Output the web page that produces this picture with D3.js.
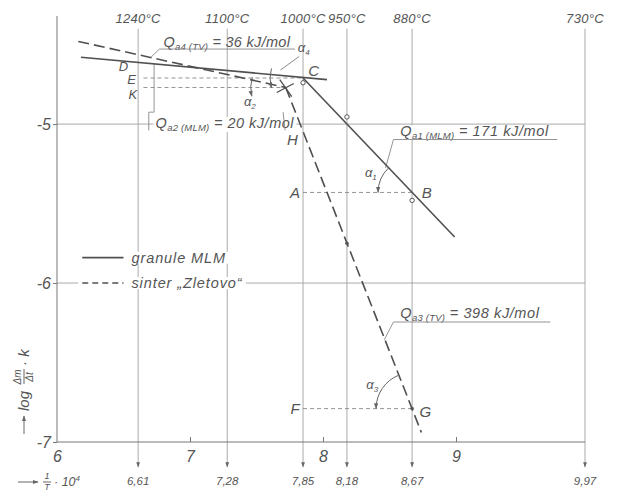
<!DOCTYPE html>
<html><head><meta charset="utf-8">
<script src="https://cdn.jsdelivr.net/npm/d3@7"></script>
<style>
body{margin:0;background:#fff}
text{font-family:"Liberation Sans",sans-serif;font-style:italic;fill:#555}
</style>
</head><body>
<svg id="chart" width="619" height="495"></svg>
<script>
// ---- data ----
const xTicks = [6, 7, 8, 9];
const yTicks = [-5, -6, -7];
const tempX = [6.61, 7.28, 7.85, 8.18, 8.67, 9.97];
const tempLabels = ["1240°C", "1100°C", "1000°C", "950°C", "880°C", "730°C"];
const invTLabels = ["6,61", "7,28", "7,85", "8,18", "8,67", "9,97"];
const granuleSeg1 = [[6.18, -4.58], [8.03, -4.72]];   // Qa2(MLM)
const granuleSeg2 = [[7.85, -4.71], [8.99, -5.71]];   // Qa1(MLM)
const sinterSeg1 = [[6.16, -4.48], [7.72, -4.77]];    // Qa4(TV)
const sinterSeg2 = [[7.72, -4.77], [8.74, -6.94]];    // Qa3(TV)
const granulePoints = [[7.85, -4.74], [8.18, -4.955], [8.67, -5.48]];
const sinterPoints = [[8.18, -5.75]];
const pointC = [7.85, -4.71], pointB = [8.67, -5.43], pointG = [8.67, -6.79], pointX = [7.72, -4.77];
const letterLabels = [
  {t: "C", x: 7.93, y: -4.665, s: 15}, {t: "B", x: 8.78, y: -5.43, s: 15}, {t: "A", x: 7.79, y: -5.43, s: 15},
  {t: "F", x: 7.79, y: -6.79, s: 15}, {t: "G", x: 8.77, y: -6.81, s: 15}, {t: "H", x: 7.77, y: -5.10, s: 15},
  {t: "D", x: 6.50, y: -4.64, s: 13}, {t: "E", x: 6.56, y: -4.72, s: 13}, {t: "K", x: 6.57, y: -4.815, s: 13}
];
const dottedLines = [
  [[6.65, -4.71], [7.85, -4.71]],  // E
  [[6.65, -4.77], [7.72, -4.77]],  // K
  [[7.85, -5.43], [8.67, -5.43]],  // A-B
  [[7.85, -6.79], [8.67, -6.79]]   // F-G
];
const annotations = [
  {main: "Q", sub: "a4 (TV)", rest: " = 36 kJ/mol", x: 6.80, y: -4.515, ls: 0.3, ul: [6.77, 7.79], leader: [[6.77, -4.528], [6.70, -4.585]]},
  {main: "Q", sub: "a2 (MLM)", rest: " = 20 kJ/mol", x: 6.74, y: -5.025, ls: 0.5, ul: null, leader: [[6.73, -4.616], [6.73, -4.925], [6.69, -4.925], [6.69, -5.04]], bg: true},
  {main: "Q", sub: "a1 (MLM)", rest: " = 171 kJ/mol", x: 8.58, y: -5.075, ls: 0.6, ul: [8.53, 9.76], leader: [[8.53, -5.097], [8.47, -5.277]], bg: true},
  {main: "Q", sub: "a3 (TV)", rest: " = 398 kJ/mol", x: 8.58, y: -6.22, ls: 0.6, ul: [8.53, 9.71], leader: [[8.53, -6.245], [8.46, -6.358]]}
];
const alphaLabels = [
  {t: "α", s: "1", x: 8.36, y: -5.335}, {t: "α", s: "3", x: 8.37, y: -6.665},
  {t: "α", s: "2", x: 7.45, y: -4.885}, {t: "α", s: "4", x: 7.855, y: -4.545}
];

// ---- scales ----
const svg = d3.select("#chart");
const x = d3.scaleLinear().domain([6, 9.97]).range([57, 585]);
const y = d3.scaleLinear().domain([-7, -4.32]).range([442, 16]);
const gridTop = -4.4;
const gridCol = "#a0a0a0", lineCol = "#505050";

const defs = svg.append("defs");
defs.append("marker").attr("id", "arr").attr("viewBox", "0 0 10 10").attr("refX", 9).attr("refY", 5)
  .attr("markerWidth", 6).attr("markerHeight", 7).attr("orient", "auto-start-reverse")
  .append("path").attr("d", "M0,1.5 L10,5 L0,8.5 Z").attr("fill", "#666");

// horizontal grid lines
svg.append("g").selectAll("line").data([-5, -6]).join("line")
  .attr("x1", x(6)).attr("x2", x(9.97)).attr("y1", d => y(d)).attr("y2", d => y(d))
  .attr("stroke", gridCol).attr("stroke-width", 0.9);

// vertical temperature lines with arrows
svg.append("g").selectAll("line").data(tempX).join("line")
  .attr("x1", d => x(d)).attr("x2", d => x(d)).attr("y1", y(gridTop)).attr("y2", y(-7) + 25)
  .attr("stroke", gridCol).attr("stroke-width", 0.9).attr("marker-end", "url(#arr)");
svg.append("g").selectAll("text").data(tempX).join("text")
  .attr("x", d => x(d)).attr("y", y(gridTop) - 6).attr("text-anchor", "middle")
  .attr("font-size", 13).attr("letter-spacing", 0.3).text((d, i) => tempLabels[i]);
svg.append("g").selectAll("text").data(tempX).join("text")
  .attr("x", d => x(d)).attr("y", y(-7) + 43).attr("text-anchor", "middle")
  .attr("font-size", 11.5).text((d, i) => invTLabels[i]);

// axes
const xAxis = svg.append("g").attr("transform", `translate(0,${y(-7)})`)
  .call(d3.axisBottom(x).tickValues(xTicks).tickSize(-5).tickPadding(9).tickFormat(d3.format("d")));
const yAxis = svg.append("g").attr("transform", `translate(${x(6)},0)`)
  .call(d3.axisLeft(y).tickValues(yTicks).tickSize(4).tickPadding(2).tickFormat(d => "-" + Math.abs(d)));
[xAxis, yAxis].forEach(g => {
  g.selectAll("path,line").attr("stroke", "#777").attr("stroke-width", 1);
  g.selectAll("text").attr("fill", "#555").style("font-family", null).attr("font-size", 16);
});
xAxis.select(".domain").attr("d", `M${x(6)},0H${x(9.97)}`);
yAxis.select(".domain").attr("d", `M0,${y(-7)}V${y(-4.32)}`);
xAxis.selectAll(".tick").filter(d => d === 6).select("line").remove();

// dotted helper lines
const line = d3.line().x(d => x(d[0])).y(d => y(d[1]));
svg.append("g").selectAll("path").data(dottedLines).join("path")
  .attr("d", line).attr("fill", "none").attr("stroke", "#888").attr("stroke-width", 0.9)
  .attr("stroke-dasharray", "4,3");

// annotations
annotations.forEach(a => {
  const g = svg.append("g");
  const t = g.append("text").attr("x", x(a.x)).attr("y", y(a.y)).attr("font-size", 14.5).attr("letter-spacing", a.ls);
  t.append("tspan").text(a.main);
  t.append("tspan").attr("font-size", 9.5).attr("dy", 3).attr("letter-spacing", 0.2).text(a.sub);
  t.append("tspan").attr("dy", -3).text(a.rest);
  if (a.bg) {
    const b = t.node().getBBox();
    g.insert("rect", "text").attr("x", b.x - 2).attr("y", b.y + 2).attr("width", b.width + 4)
      .attr("height", b.height - 3).attr("fill", "#fff");
  }
  if (a.ul) {
    g.append("line").attr("x1", x(a.ul[0])).attr("x2", x(a.ul[1]))
      .attr("y1", y(a.leader[0][1])).attr("y2", y(a.leader[0][1]))
      .attr("stroke", "#888").attr("stroke-width", 0.9);
  }
  g.append("path").attr("d", line(a.leader)).attr("fill", "none").attr("stroke", "#888").attr("stroke-width", 0.9);
});
svg.append("path").attr("d", line([[7.70, -4.925], [7.715, -5.04]])).attr("fill", "none")
  .attr("stroke", "#888").attr("stroke-width", 0.9);

// data lines
svg.append("g").selectAll("path").data([granuleSeg1, granuleSeg2]).join("path")
  .attr("d", line).attr("fill", "none").attr("stroke", lineCol).attr("stroke-width", 1.6);
svg.append("g").selectAll("path").data([sinterSeg1, sinterSeg2]).join("path")
  .attr("d", line).attr("fill", "none").attr("stroke", lineCol).attr("stroke-width", 1.6)
  .attr("stroke-dasharray", "11,5");

// points
svg.append("g").selectAll("circle").data(granulePoints).join("circle")
  .attr("cx", d => x(d[0])).attr("cy", d => y(d[1])).attr("r", 2.2)
  .attr("fill", "#fff").attr("stroke", "#555").attr("stroke-width", 1);
svg.append("g").selectAll("circle").data(sinterPoints.concat([pointG])).join("circle")
  .attr("cx", d => x(d[0])).attr("cy", d => y(d[1])).attr("r", 1.8).attr("fill", "#555");
const Xp = [x(pointX[0]), y(pointX[1])];
svg.append("path").attr("d", `M${Xp[0]-6},${Xp[1]-8}L${Xp[0]+6},${Xp[1]+9}M${Xp[0]-9},${Xp[1]+5}L${Xp[0]+8},${Xp[1]-4}`)
  .attr("stroke", lineCol).attr("stroke-width", 1.3).attr("fill", "none");

// angle arcs
function arcPath(center, toward, r, extra0, extra1) {
  const cx = x(center[0]), cy = y(center[1]);
  const th0 = Math.PI - (extra0 || 0);
  let th1 = Math.atan2(y(toward[1]) - cy, x(toward[0]) - cx);
  if (th1 < 0) th1 += 2 * Math.PI;
  th1 += (extra1 || 0);
  return `M${cx + r * Math.cos(th0)},${cy + r * Math.sin(th0)}A${r},${r} 0 0 1 ${cx + r * Math.cos(th1)},${cy + r * Math.sin(th1)}`;
}
const arcs = [
  {c: pointB, to: pointC, r: 34},
  {c: pointG, to: pointX, r: 36},
  {c: pointX, to: sinterSeg1[0], r: 35, e0: 0.25, e1: 0.08},
  {c: pointC, to: granuleSeg1[0], r: 33, e0: 0.3, e1: 0.2}
];
svg.append("g").selectAll("path").data(arcs).join("path")
  .attr("d", d => arcPath(d.c, d.to, d.r, d.e0, d.e1)).attr("fill", "none")
  .attr("stroke", "#666").attr("stroke-width", 1).attr("marker-start", "url(#arr)");
svg.append("path").attr("d", line([[7.82, -4.575], [7.68, -4.66]])).attr("stroke", "#888").attr("fill", "none");

svg.append("g").selectAll("text").data(alphaLabels).join("text")
  .attr("x", d => x(d.x)).attr("y", d => y(d.y)).attr("text-anchor", "middle").attr("font-size", 13)
  .each(function(d) {
    d3.select(this).append("tspan").text(d.t);
    d3.select(this).append("tspan").attr("font-size", 8).attr("dy", 3).text(d.s);
  });

// letters
svg.append("g").selectAll("text").data(letterLabels).join("text")
  .attr("x", d => x(d.x)).attr("y", d => y(d.y)).attr("dy", "0.35em").attr("text-anchor", "middle")
  .attr("font-size", d => d.s).text(d => d.t);

// legend
const leg = svg.append("g");
const legItems = [{t: "granule MLM", dash: null, yv: -5.84}, {t: "sinter „Zletovo“", dash: "6,4", yv: -6.0}];
legItems.forEach(it => {
  const tx = leg.append("text").attr("x", x(6.56)).attr("y", y(it.yv)).attr("dy", "0.35em")
    .attr("font-size", 14.5).attr("letter-spacing", 0.9).text(it.t);
  const b = tx.node().getBBox();
  leg.insert("rect", "text").attr("x", x(6.16)).attr("y", b.y + 2).attr("width", b.x + b.width + 3 - x(6.16))
    .attr("height", b.height - 4).attr("fill", "#fff");
  leg.append("line").attr("x1", x(6.19)).attr("x2", x(6.50)).attr("y1", y(it.yv)).attr("y2", y(it.yv))
    .attr("stroke", lineCol).attr("stroke-width", 1.6).attr("stroke-dasharray", it.dash);
});

// y axis title (rotated)
const yt = svg.append("g").attr("transform", `translate(24,${y(-7) - 8}) rotate(-90)`);
yt.append("line").attr("x1", 0).attr("x2", 18).attr("y1", 0).attr("y2", 0).attr("stroke", "#666")
  .attr("marker-end", "url(#arr)");
yt.append("text").attr("x", 23).attr("y", 0).attr("dy", "0.35em").attr("font-size", 15).text("log");
yt.append("text").attr("x", 57).attr("y", -3).attr("text-anchor", "middle").attr("font-size", 10).text("Δm");
yt.append("line").attr("x1", 50).attr("x2", 65).attr("y1", 0).attr("y2", 0).attr("stroke", "#666");
yt.append("text").attr("x", 57).attr("y", 9).attr("text-anchor", "middle").attr("font-size", 10).text("Δt");
yt.append("text").attr("x", 68).attr("y", 0).attr("dy", "0.35em").attr("font-size", 15).text("· k");

// x axis title
const xt = svg.append("g").attr("transform", `translate(18,${y(-7) + 40})`);
xt.append("line").attr("x1", 0).attr("x2", 20).attr("y1", 0).attr("y2", 0).attr("stroke", "#666")
  .attr("marker-end", "url(#arr)");
xt.append("text").attr("x", 29).attr("y", -3).attr("text-anchor", "middle").attr("font-size", 9).text("1");
xt.append("line").attr("x1", 25).attr("x2", 33).attr("y1", 0).attr("y2", 0).attr("stroke", "#666");
xt.append("text").attr("x", 29).attr("y", 8).attr("text-anchor", "middle").attr("font-size", 9).text("T");
const x10 = xt.append("text").attr("x", 36).attr("y", 0).attr("dy", "0.35em").attr("font-size", 12.5);
x10.append("tspan").text("· 10");
x10.append("tspan").attr("font-size", 8).attr("dy", -5).text("4");
</script>
</body></html>
